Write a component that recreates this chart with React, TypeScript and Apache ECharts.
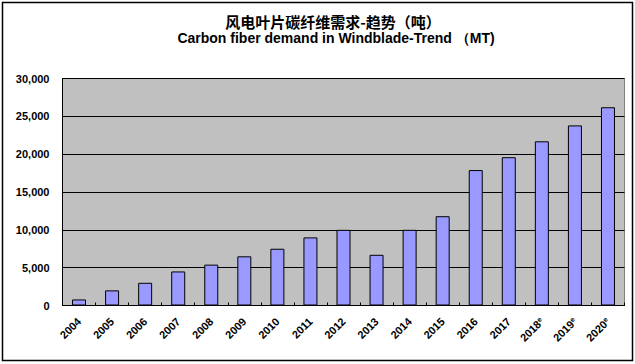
import React, { useEffect, useRef } from "react";
import * as echarts from "echarts";

const categories = ["2004", "2005", "2006", "2007", "2008", "2009", "2010", "2011", "2012", "2013", "2014", "2015", "2016", "2017", "2018e", "2019e", "2020e"];
const demand = [800, 2000, 3000, 4500, 5400, 6500, 7500, 9000, 10000, 6700, 10000, 11800, 17900, 19600, 21700, 23800, 26200];
const titleCn = "风电叶片碳纤维需求-趋势（吨）";
const titleEn = "Carbon fiber demand in Windblade-Trend （MT)";

export default function App() {
  const ref = useRef<HTMLDivElement>(null);
  useEffect(() => {
    document.body.style.margin = "0";
    const chart = echarts.init(ref.current!, null, { renderer: "svg" });
    chart.setOption({
      animation: false,
      backgroundColor: "#ffffff",
      title: [
        {
          text: titleCn,
          left: 328,
          top: 9,
          textAlign: "center",
          textStyle: { fontFamily: "Noto Sans CJK SC", fontWeight: "bold", fontSize: 15, color: "#000" },
        },
        {
          text: titleEn,
          left: 331,
          top: 26,
          textAlign: "center",
          textStyle: { fontFamily: "Arial, Liberation Sans", fontWeight: "bold", fontSize: 14, color: "#000" },
        },
      ],
      graphic: [
        {
          type: "rect",
          shape: { x: 2.5, y: 2.5, width: 630, height: 358 },
          style: { fill: "none", stroke: "#000", lineWidth: 1.5 },
          silent: true,
        },
      ],
      grid: {
        left: 62.5,
        right: 10.5,
        top: 78.5,
        bottom: 58.5,
        show: true,
        backgroundColor: "#C0C0C0",
        borderColor: "#808080",
        borderWidth: 1,
        containLabel: false,
      },
      xAxis: {
        type: "category",
        data: categories,
        boundaryGap: true,
        axisLine: { lineStyle: { color: "#000", width: 1 } },
        axisTick: { show: true, inside: true, length: 3, lineStyle: { color: "#000" } },
        axisLabel: {
          rotate: 45,
          margin: 14,
          interval: 0,
          fontFamily: "Arial, Liberation Sans",
          fontWeight: "bold",
          fontSize: 11,
          color: "#000",
          formatter: (v: string) => (v.endsWith("e") ? v.slice(0, -1) + "{e|e}" : v),
          rich: {
            e: { fontFamily: "Arial, Liberation Sans", fontWeight: "bold", fontSize: 7, color: "#000", verticalAlign: "top" },
          },
        },
      },
      yAxis: {
        type: "value",
        min: 0,
        max: 30000,
        interval: 5000,
        axisLine: { show: true, lineStyle: { color: "#000", width: 1 } },
        axisTick: { show: false },
        splitLine: { show: true, lineStyle: { color: "#000", width: 1 } },
        axisLabel: {
          margin: 13,
          fontFamily: "Arial, Liberation Sans",
          fontWeight: "bold",
          fontSize: 11,
          color: "#000",
          formatter: (v: number) => v.toLocaleString("en-US"),
        },
      },
      series: [
        {
          type: "bar",
          data: demand,
          barWidth: 14,
          itemStyle: { color: "#9999FF", borderColor: "#000", borderWidth: 1 },
        },
      ],
    });
    return () => chart.dispose();
  }, []);
  return <div ref={ref} style={{ width: 635, height: 364, position: "absolute", left: 0, top: 0 }} />;
}
